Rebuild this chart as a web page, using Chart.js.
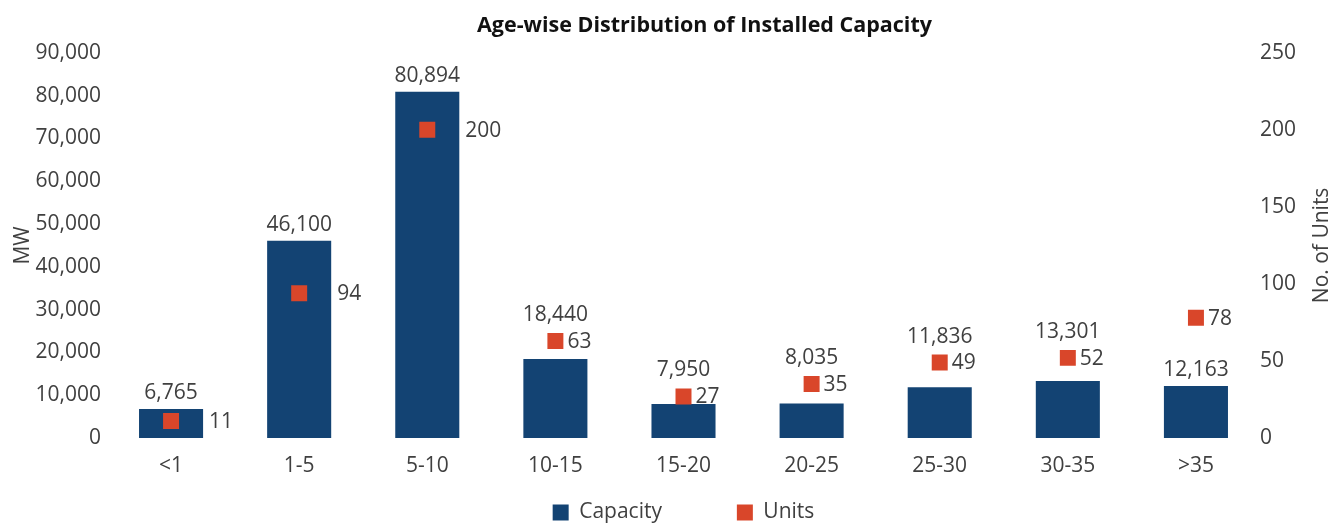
<!DOCTYPE html>
<html lang="en">
<head>
  <meta charset="UTF-8">
  <title>Age-wise Distribution of Installed Capacity</title>
  <style>
    body { margin: 0; background: #fff; }
    .box { width: 1335px; height: 523px; }
  </style>
</head>
<body>
  <div class="box">
    <canvas id="myChart" width="1335" height="523"></canvas>
  </div>
  <script src="https://cdn.jsdelivr.net/npm/chart.js"></script>
  <script>
    var idade = ['<1', '1-5', '5-10', '10-15', '15-20', '20-25', '25-30', '30-35', '>35'];
    var capacidade = [6765, 46100, 80894, 18440, 7950, 8035, 11836, 13301, 12163];
    var unidades = [11, 94, 200, 63, 27, 35, 49, 52, 78];
    var ticksMW = [0, 10000, 20000, 30000, 40000, 50000, 60000, 70000, 80000, 90000];
    var ticksUnits = [0, 50, 100, 150, 200, 250];

    var titulo = 'Age-wise Distribution of Installed Capacity';
    var azul = '#134373';
    var laranja = '#d9462a';
    var texto = '#404040';
    var fonte = "'Open Sans', sans-serif";

    // value labels, title and right axis title drawn by hand
    var rotulos = {
      id: 'rotulos',
      afterDatasetsDraw(chart) {
        var ctx = chart.ctx;
        var area = chart.chartArea;
        var barras = chart.getDatasetMeta(0).data;
        var pontos = chart.getDatasetMeta(1).data;
        ctx.save();
        ctx.font = '21px ' + fonte;
        ctx.fillStyle = texto;
        ctx.textAlign = 'center';
        ctx.textBaseline = 'alphabetic';
        barras.forEach(function (b, i) {
          var base = b.y - 10;
          var p = pontos[i];
          var topo = p.y - 8;
          // push the label up when the square sits just above the bar
          if (p.y < b.y && p.y + 8 > base - 16) base = Math.min(base, topo - 12);
          ctx.fillText(capacidade[i].toLocaleString('en-US'), b.x, base);
        });
        ctx.textAlign = 'left';
        ctx.textBaseline = 'middle';
        pontos.forEach(function (p, i) {
          var b = barras[i];
          var x = p.x + 12;
          if (p.y > b.y) x = b.x + b.width / 2 + 6;
          ctx.fillText(unidades[i], x, p.y + 1);
        });

        var s = chart.scales.y1;
        ctx.save();
        ctx.translate(s.right - 11, (s.top + s.bottom) / 2);
        ctx.rotate(-Math.PI / 2);
        ctx.textAlign = 'center';
        ctx.fillText('No. of Units', 0, 0);
        ctx.restore();

        var t = chart.titleBlock;
        ctx.font = 'bold 21.5px ' + fonte;
        ctx.fillStyle = '#111';
        ctx.textAlign = 'center';
        ctx.textBaseline = 'middle';
        ctx.fillText(titulo, (area.left + area.right) / 2 + 21, t.top + 12 + 14);
        ctx.restore();
      }
    };

    new Chart(document.getElementById('myChart'), {
      type: 'bar',
      data: {
        labels: idade,
        datasets: [{
          label: 'Capacity',
          data: capacidade,
          backgroundColor: azul,
          borderWidth: 0,
          barPercentage: 0.5,
          categoryPercentage: 1,
          yAxisID: 'y',
          order: 2
        },
        {
          label: 'Units',
          type: 'line',
          data: unidades,
          showLine: false,
          pointStyle: 'rect',
          pointRadius: 11.3,
          pointHoverRadius: 11.3,
          pointBorderWidth: 0,
          backgroundColor: laranja,
          borderColor: laranja,
          borderWidth: 0,
          yAxisID: 'y1',
          order: 1
        }]
      },
      options: {
        responsive: false,
        animation: false,
        layout: { padding: { left: 10, right: 2, top: 0, bottom: -10 } },
        plugins: {
          title: {
            display: true,
            text: titulo,
            color: 'rgba(0,0,0,0)',
            font: { family: fonte, size: 21.5, weight: 'bold' },
            padding: { top: 12, bottom: 15 }
          },
          legend: {
            position: 'bottom',
            fullSize: false,
            labels: {
              color: texto,
              font: { family: fonte, size: 21 },
              boxWidth: 16,
              boxHeight: 16,
              padding: 4,
              sort: (a, b) => a.datasetIndex - b.datasetIndex,
              generateLabels(chart) {
                var itens = Chart.defaults.plugins.legend.labels.generateLabels(chart);
                itens.forEach(function (it) {
                  if (it.datasetIndex === 0) it.text = it.text + '             ';
                });
                return itens;
              }
            }
          },
          tooltip: { enabled: false }
        },
        scales: {
          x: {
            afterFit(axis) { axis.height = 60; },
            grid: { display: false, drawTicks: false },
            border: { display: false },
            ticks: { color: texto, font: { family: fonte, size: 21 }, padding: 15 }
          },
          y: {
            position: 'left',
            min: 0,
            max: 90000,
            afterFit(axis) { axis.width = 97; },
            afterBuildTicks(axis) { axis.ticks = ticksMW.map(v => ({ value: v })); },
            grid: { display: false, drawTicks: false },
            border: { display: false },
            title: { display: true, text: 'MW', color: texto, font: { family: fonte, size: 21 }, padding: 0 },
            ticks: {
              color: texto,
              font: { family: fonte, size: 21 },
              padding: 6,
              callback: v => v.toLocaleString('en-US')
            }
          },
          y1: {
            position: 'right',
            min: 0,
            max: 250,
            afterFit(axis) { axis.width = 73; },
            afterBuildTicks(axis) { axis.ticks = ticksUnits.map(v => ({ value: v })); },
            grid: { display: false, drawTicks: false },
            border: { display: false },
            title: { display: true, text: 'No. of Units', color: 'rgba(0,0,0,0)', font: { family: fonte, size: 21 }, padding: 0 },
            ticks: { color: texto, font: { family: fonte, size: 21 }, padding: 0 }
          }
        }
      },
      plugins: [rotulos]
    });
  </script>
</body>
</html>
